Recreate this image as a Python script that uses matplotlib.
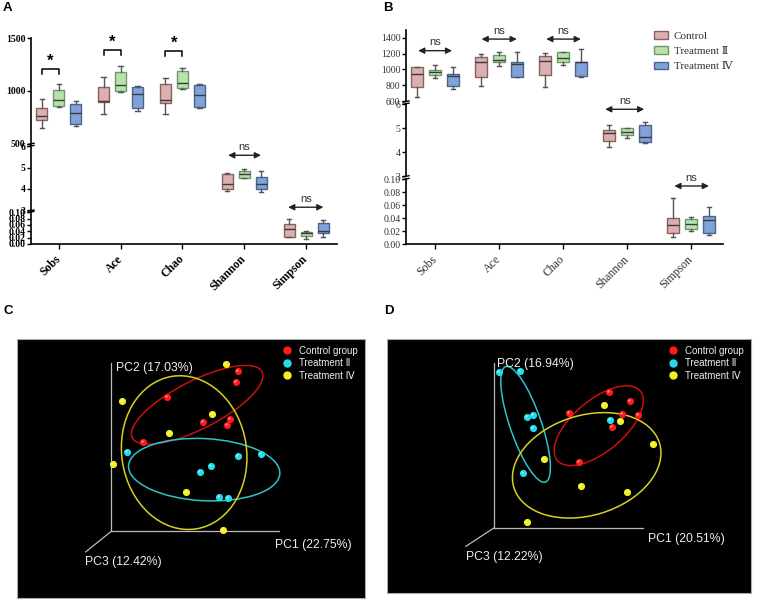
import matplotlib.pyplot as plt
from matplotlib.patches import Ellipse, Patch
from matplotlib.lines import Line2D

W, H = 758, 603

categories = ['Sobs', 'Ace', 'Chao', 'Shannon', 'Simpson']
groups = ['Control', 'Treatment Ⅱ', 'Treatment Ⅳ']
box_faces = ['#dcb0b0', '#b8e2ac', '#80a2d8']
box_edges = ['#8a6262', '#6e986a', '#4c6490']
seg_of = [0, 0, 0, 1, 2]

# five-number summaries per category: whislo, q1, med, q3, whishi
a_control = [[645, 720, 764, 840, 918], [780, 896, 900, 1038, 1135], [777, 880, 909, 1060, 1123],
             [3.89, 4.00, 4.22, 4.69, 4.77], [0.021, 0.023, 0.046, 0.062, 0.080]]
a_treat2 = [[849, 855, 912, 1003, 1060], [987, 1000, 1057, 1179, 1233], [1013, 1022, 1069, 1186, 1220],
            [4.52, 4.52, 4.70, 4.83, 4.95], [0.017, 0.025, 0.035, 0.038, 0.040]]
a_treat4 = [[667, 686, 789, 877, 899], [808, 833, 965, 1038, 1047], [833, 843, 962, 1050, 1060],
            [3.84, 3.98, 4.23, 4.55, 4.86], [0.021, 0.034, 0.041, 0.065, 0.075]]

b_control = [[654, 779, 942, 1025, 1029], [792, 904, 1092, 1154, 1192], [779, 929, 1108, 1175, 1204],
             [4.22, 4.47, 4.81, 4.92, 5.13], [0.012, 0.018, 0.030, 0.041, 0.072]]
b_treat2 = [[896, 929, 971, 992, 1054], [1046, 1096, 1121, 1183, 1225], [1054, 1100, 1146, 1225, 1225],
            [4.58, 4.72, 4.82, 4.99, 5.00], [0.021, 0.023, 0.032, 0.039, 0.042]]
b_treat4 = [[754, 792, 917, 937, 1025], [904, 904, 1067, 1092, 1217], [900, 917, 1088, 1092, 1254],
            [4.36, 4.40, 4.61, 5.11, 5.24], [0.015, 0.018, 0.037, 0.043, 0.057]]

a_lims = [(500, 1500), (3, 6), (0, 0.10)]
a_ticks = [[500, 1000, 1500], [3, 4, 5, 6], [0, 0.02, 0.04, 0.06, 0.08, 0.10]]
b_lims = [(600, 1500), (3, 6), (0, 0.10)]
b_ticks = [[600, 800, 1000, 1200, 1400], [3, 4, 5, 6], [0, 0.02, 0.04, 0.06, 0.08, 0.10]]

# significance marks: (category, segment, y of line, y of label, x span, label)
a_stars = [(0, 1157, 1204, 1280), (1, 1343, 1390, 1462), (2, 1330, 1377, 1447)]
a_ns = [(3, 1, 5.58, 5.98, 2.74, 3.27), (4, 2, 0.116, 0.141, 3.71, 4.28)]
b_ns = [(0, 0, 1237, 1342, -0.26, 0.27), (1, 0, 1383, 1487, 0.73, 1.28), (2, 0, 1383, 1487, 1.74, 2.28),
        (3, 1, 5.78, 6.12, 2.66, 3.27), (4, 2, 0.0897, 0.1026, 3.74, 4.28)]

c_red = [(715, 215), (709, 248), (503, 291), (608, 366), (690, 356), (682, 374), (431, 427)]
c_cyan = [(381, 455), (783, 463), (714, 469), (634, 499), (601, 516), (656, 590), (683, 593)]
c_yellow = [(677, 193), (367, 303), (636, 343), (509, 398), (341, 492), (559, 577), (668, 690)]
c_ellipses = [(592, 315, 218, 72, -27), (613, 509, 227, 93, 3), (553, 458, 231, 187, 81)]
c_labels = ['PC1 (22.75%)', 'PC2 (17.03%)', 'PC3 (12.42%)']

d_red = [(686, 276), (750, 304), (568, 340), (726, 344), (773, 347), (695, 382), (598, 488)]
d_cyan = [(356, 216), (420, 213), (440, 352), (458, 345), (459, 386), (689, 360), (430, 520)]
d_yellow = [(671, 315), (719, 364), (820, 434), (493, 477), (603, 560), (740, 577), (440, 667)]
d_ellipses = [(656, 378, 162, 77, -40), (437, 374, 183, 47, 71), (620, 497, 228, 150, -17)]
d_labels = ['PC1 (20.51%)', 'PC2 (16.94%)', 'PC3 (12.22%)']

pt_colors = ['#ff1a1a', '#22dcea', '#f4f020']
ell_colors = ['#c81010', '#2cc4c8', '#d8d020']
pca_groups = ['Control group', 'Treatment Ⅱ', 'Treatment Ⅳ']

serif = ['Liberation Serif', 'DejaVu Serif', 'Noto Sans CJK SC']
sans = ['Liberation Sans', 'DejaVu Sans', 'Noto Sans CJK SC']

fig = plt.figure(figsize=(W / 100, H / 100), dpi=100)


def frac(x0, y0, x1, y1):
    return [x0 / W, 1 - y1 / H, (x1 - x0) / W, (y1 - y0) / H]


def break_mark(x, y):
    fig.add_artist(Line2D([(x - 3) / W, (x + 3) / W], [1 - (y + 0.6) / H, 1 - (y - 0.6) / H],
                          color='black', lw=1))


def box_panel(x0, x1, segs, lims, ticks, data, weight, tcolor, offset, width):
    axes = []
    for i, (ya, yb) in enumerate(segs):
        ax = fig.add_axes(frac(x0, ya, x1, yb))
        ax.set_xlim(-0.45, 4.5)
        ax.set_ylim(*lims[i])
        fmt = '%.2f' if i == 2 else '%d'
        ax.set_yticks(ticks[i])
        ax.set_yticklabels([fmt % t for t in ticks[i]], family=serif, fontsize=7,
                           weight=weight, color=tcolor)
        ax.tick_params(axis='y', length=3, width=1, pad=1)
        ax.spines[['top', 'right']].set_visible(False)
        ax.spines['left'].set_linewidth(1.2)
        ax.patch.set_alpha(0)
        if i < 2:
            ax.spines['bottom'].set_visible(False)
            ax.set_xticks([])
        axes.append(ax)
    for g in range(3):
        for c in range(5):
            s = data[g][c]
            st = dict(whislo=s[0], q1=s[1], med=s[2], q3=s[3], whishi=s[4])
            axes[seg_of[c]].bxp([st], positions=[c + (g - 1) * offset], widths=width,
                                patch_artist=True, showfliers=False, manage_ticks=False,
                                capwidths=0.07,
                                boxprops=dict(facecolor=box_faces[g], edgecolor=box_edges[g], lw=1),
                                medianprops=dict(color='#3a3a3a', lw=1),
                                whiskerprops=dict(color='#555555', lw=1),
                                capprops=dict(color='#555555', lw=1))
    bottom = axes[2]
    bottom.spines['bottom'].set_linewidth(1.2)
    bottom.set_xticks(range(5))
    bottom.set_xticklabels(categories, rotation=45, ha='right', va='center',
                           rotation_mode='anchor', family=serif, fontsize=8.5,
                           weight=weight, color=tcolor)
    bottom.tick_params(axis='x', length=3.5, width=1, pad=6)
    for k in range(2):
        break_mark(x0, segs[k][1] + 0.3)
        break_mark(x0, segs[k + 1][0] - 0.3)
    return axes


def ns_mark(axes, c, seg, y, ty, xa, xb):
    ax = axes[seg]
    ax.annotate('', xy=(xa, y), xytext=(xb, y),
                arrowprops=dict(arrowstyle='<|-|>', color='#222222', lw=1, mutation_scale=9,
                                shrinkA=0, shrinkB=0), annotation_clip=False)
    ax.text((xa + xb) / 2, ty, 'ns', ha='center', va='center', fontsize=8,
            family=sans, color='#333333', clip_on=False)


# panel A
a_axes = box_panel(31, 337, [(38, 143.5), (146.3, 210.3), (212.3, 244)], a_lims, a_ticks,
                   [a_control, a_treat2, a_treat4], 'bold', 'black', 0.275, 0.18)
for c, ylo, yhi, ys in a_stars:
    xa, xb = c - 0.275, c
    a_axes[0].plot([xa, xa, xb, xb], [ylo, yhi, yhi, ylo], color='black', lw=1.1)
    a_axes[0].text((xa + xb) / 2, ys, '*', ha='center', va='center', fontsize=12,
                   weight='bold', family=sans)
for c, seg, y, ty, xa, xb in a_ns:
    ns_mark(a_axes, c, seg, y, ty, xa, xb)

# panel B
b_axes = box_panel(406, 723, [(29.8, 101.2), (104, 176), (179.3, 244.3)], b_lims, b_ticks,
                   [b_control, b_treat2, b_treat4], 'normal', '#333333', 0.28, 0.19)
for c, seg, y, ty, xa, xb in b_ns:
    ns_mark(b_axes, c, seg, y, ty, xa, xb)
handles = [Patch(facecolor=box_faces[g], edgecolor=box_edges[g], lw=1) for g in range(3)]
fig.legend(handles, groups, loc='upper left', bbox_to_anchor=(644 / W, 1 - 21 / H),
           frameon=False, prop=dict(family=serif, size=8), handlelength=1.3,
           handleheight=0.7, handletextpad=0.5, labelspacing=0.5, labelcolor='#333333')


def pca_panel(rect, xlim, ylim, pts, ells, origin, ends, labels, label_pos):
    ax = fig.add_axes(frac(*rect))
    ax.set_facecolor('black')
    ax.set_xlim(*xlim)
    ax.set_ylim(*ylim)
    ax.set_xticks([])
    ax.set_yticks([])
    for sp in ax.spines.values():
        sp.set_color('#aaaaaa')
        sp.set_linewidth(0.8)
    ox, oy = origin
    for ex, ey in ends:
        ax.plot([ox, ex], [oy, ey], color='#bbbbbb', lw=0.9)
    for (cx, cy, a, b, ang), col in zip(ells, ell_colors):
        ax.add_patch(Ellipse((cx, cy), 2 * a, 2 * b, angle=ang, fill=False, ec=col, lw=1.1))
    for grp, col in zip(pts, pt_colors):
        ax.scatter([p[0] for p in grp], [p[1] for p in grp], s=17, color=col, zorder=3)
        ax.scatter([p[0] - 3 for p in grp], [p[1] - 3 for p in grp], s=2.5, color='white',
                   alpha=0.55, lw=0, zorder=4)
    for txt, (tx, ty) in zip(labels, label_pos):
        ax.text(tx, ty, txt, ha='left', va='center', color='#eeeeee', fontsize=8.8, family=sans)
    handles = [Line2D([], [], ls='none', marker='o', ms=5, color=col) for col in pt_colors]
    ax.legend(handles, pca_groups, loc='upper right', bbox_to_anchor=(1.0, 1.0), frameon=False,
              prop=dict(family=sans, size=7), labelcolor='#eeeeee', handletextpad=0.8,
              labelspacing=0.25, borderaxespad=0.3, handlelength=1.0)
    return ax


pca_panel((17, 339, 365, 598), (52, 1095), (893, 118), [c_red, c_cyan, c_yellow], c_ellipses,
          (335, 693), [(335, 190), (838, 693), (258, 755)], c_labels,
          [(825, 733), (350, 205), (256, 785)])
pca_panel((387, 339, 751, 593), (22, 1112), (880, 118), [d_red, d_cyan, d_yellow], d_ellipses,
          (342, 685), [(342, 190), (790, 685), (258, 740)], d_labels,
          [(803, 718), (350, 192), (258, 773)])

for letter, x, y in [('A', 3, 8), ('B', 383, 8), ('C', 4, 311), ('D', 384, 311)]:
    fig.text(x / W, 1 - y / H, letter, fontsize=9.5, weight='bold', family=sans,
             ha='left', va='center')

fig.savefig('out.png', dpi=100)
